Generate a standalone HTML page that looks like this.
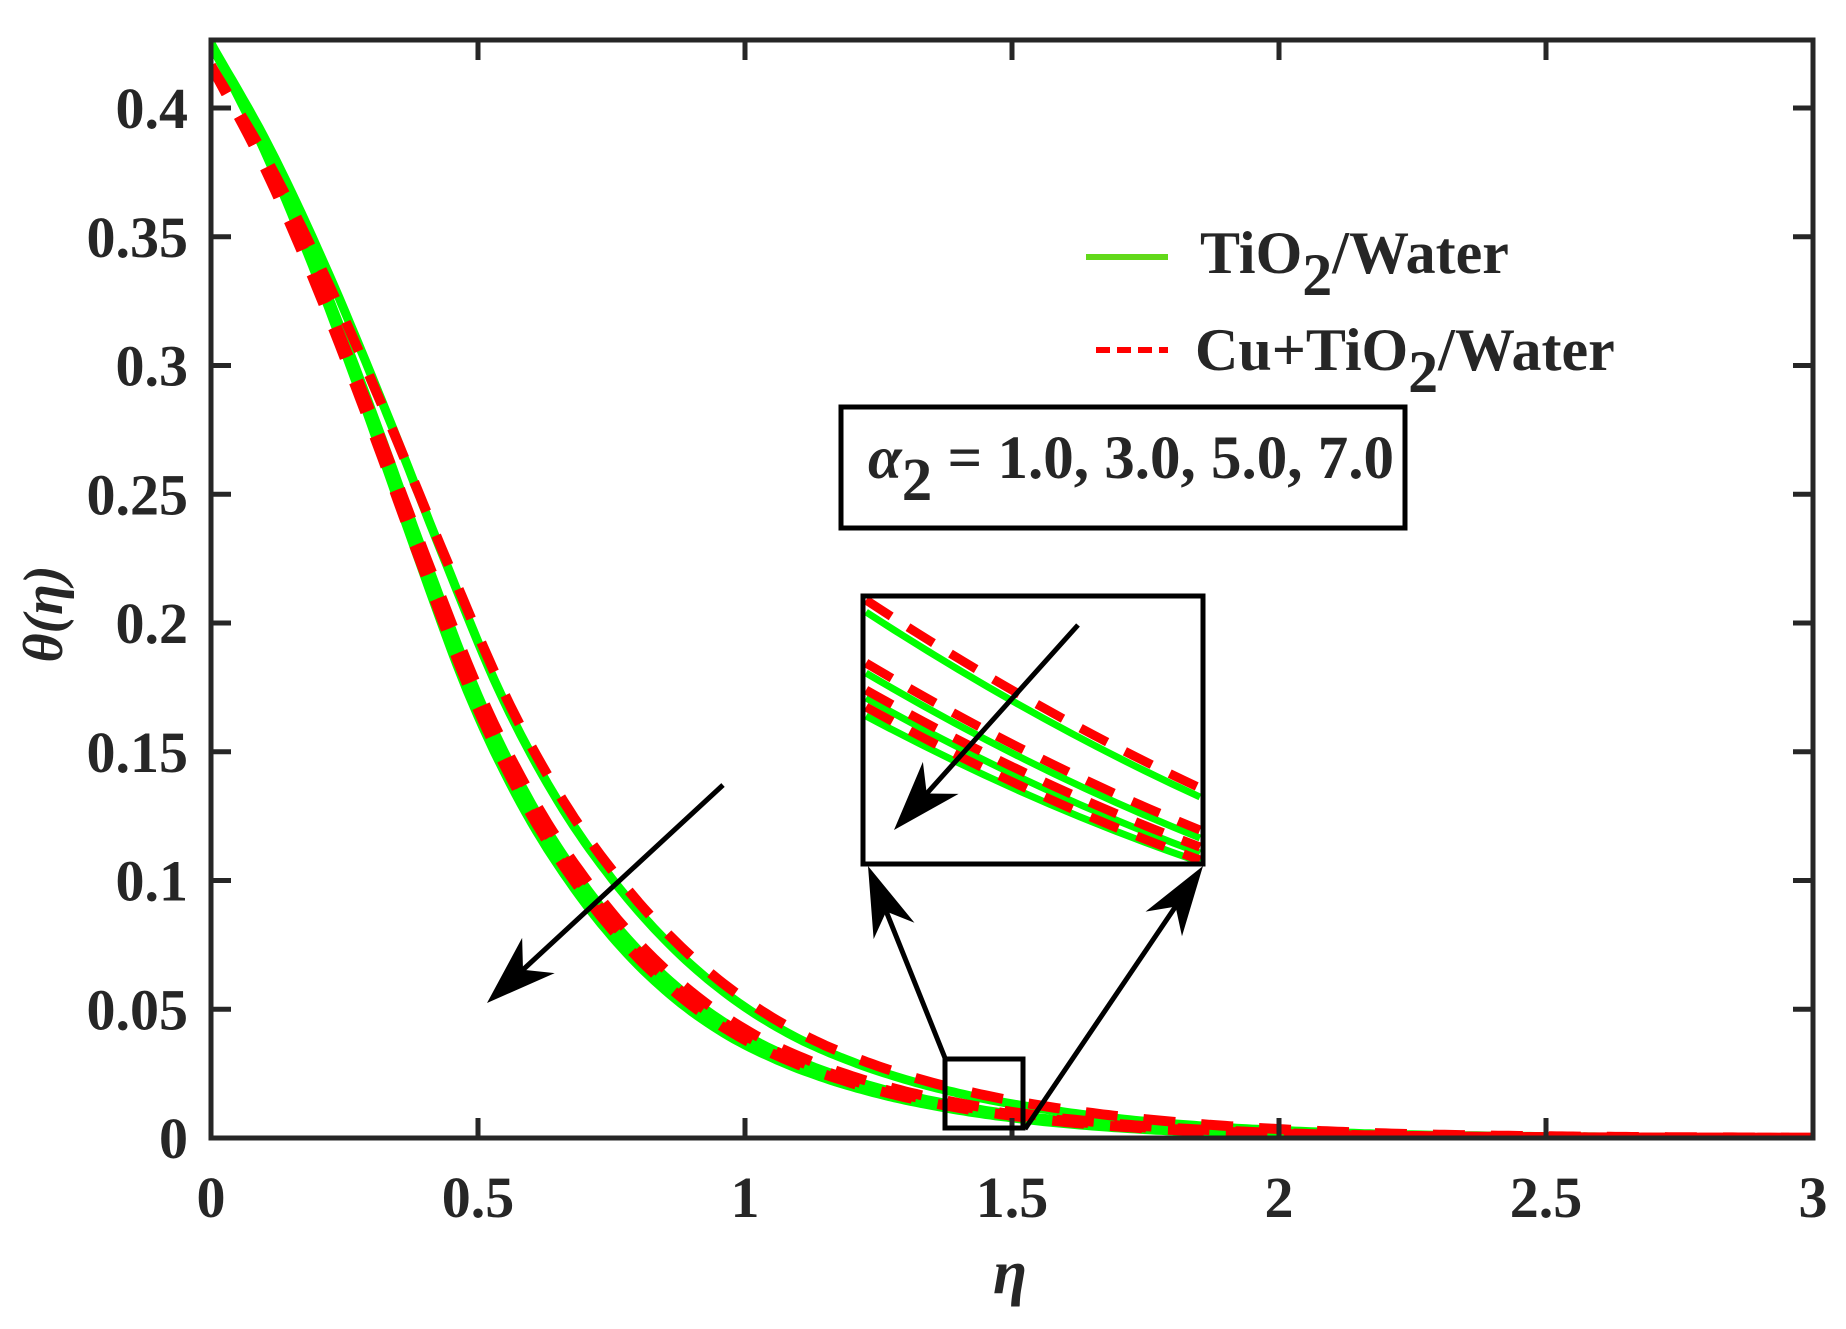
<!DOCTYPE html>
<html><head><meta charset="utf-8"><style>
html,body{margin:0;padding:0;background:#fff}
svg{display:block}
text{font-family:"Liberation Serif",serif;font-weight:bold;fill:#262626}
</style></head><body>
<svg id="s" width="1846" height="1329" viewBox="0 0 1846 1329" xmlns="http://www.w3.org/2000/svg">
<defs>
<clipPath id="pc"><rect x="211" y="38" width="1602" height="1100"/></clipPath>
<clipPath id="ic"><rect x="863" y="596" width="339" height="266"/></clipPath>
</defs>
<g id="curves" clip-path="url(#pc)"></g>
<g id="inset" clip-path="url(#ic)"></g>
<rect x="211" y="40" width="1602" height="1098" fill="none" stroke="#262626" stroke-width="5"/>
<g id="ticks" stroke="#262626" stroke-width="5"></g>
<g font-size="58" text-anchor="end" id="ylab"></g>
<g font-size="58" text-anchor="middle" id="xlab"></g>
<text x="1010" y="1293" font-size="62" font-style="italic" text-anchor="middle">η</text>
<text transform="translate(62,614) rotate(-90)" font-size="56" font-style="italic" text-anchor="middle">θ(η)</text>
<line x1="1086" y1="257" x2="1168" y2="257" stroke="#62d91a" stroke-width="6"/>
<text x="1200" y="273" font-size="60" fill="#000">TiO<tspan dy="22">2</tspan><tspan dy="-22">/Water</tspan></text>
<line x1="1096" y1="350" x2="1168" y2="350" stroke="#ff0000" stroke-width="6" stroke-dasharray="14,7"/>
<text x="1195" y="370" font-size="60" fill="#000">Cu+TiO<tspan dy="22">2</tspan><tspan dy="-22">/Water</tspan></text>
<rect x="841" y="407" width="564" height="121" fill="none" stroke="#000" stroke-width="5"/>
<text x="868" y="478" font-size="61" fill="#000"><tspan font-style="italic">α</tspan><tspan dy="22">2</tspan><tspan dy="-22"> = 1.0, 3.0, 5.0, 7.0</tspan></text>
<rect x="863" y="596" width="340" height="268" fill="none" stroke="#000" stroke-width="5"/>
<rect x="945" y="1059" width="78" height="69" fill="none" stroke="#000" stroke-width="5"/>
<g id="arrows"></g>
</svg>
<script>
var NS="http://www.w3.org/2000/svg";
function el(p,t,a){var e=document.createElementNS(NS,t);for(var k in a)e.setAttribute(k,a[k]);p.appendChild(e);return e;}
var X0=211,X1=1813,Y0=1138,PY=2575;
function px(e){return X0+(X1-X0)*e/3;}function py(v){return Y0-v*PY;}
var V=[0.425,0.385,0.337,0.283,0.226,0.172,0.13,0.098,0.073,0.054,0.040,0.030,0.0225,0.0168,0.0125,0.0092,0.0067,0.0048,0.0034,0.0024,0.0016];
var v=V[V.length-1];for(var i=V.length;i<=32;i++){v*=0.7;V.push(i>=30?0:v);}
function base(e){var h=0.1;if(e<=0)return V[0];var i=Math.floor(e/h);if(i>=V.length-2)return 0;var t=e/h-i;
var p0=V[Math.max(i-1,0)],a=V[i],b=V[i+1],p3=V[Math.min(i+2,V.length-1)];
var m1=(b-p0)/2,m2=(p3-a)/2;if(i==0)m1=b-a;var t2=t*t,t3=t2*t;
return (2*t3-3*t2+1)*a+(t3-2*t2+t)*m1+(-2*t3+3*t2)*b+(t3-t2)*m2;}
var S=[0.92,1.0,1.02,1.035];
var cg=document.getElementById('curves');
function path(f){var d="";for(var e=0;e<=3.001;e+=0.01){d+=(d?"L":"M")+px(e).toFixed(1)+","+py(f(e)).toFixed(1);}return d;}
S.forEach(function(s){el(cg,'path',{d:path(function(e){return base(e*s);}),fill:'none',stroke:'#00ff00','stroke-width':9});});
S.forEach(function(s){el(cg,'path',{d:path(function(e){return 0.98*base(e*(s-0.025));}),fill:'none',stroke:'#ff0000','stroke-width':10,'stroke-dasharray':'32,26'});});
var ig=document.getElementById('inset');
var G=[[612,797],[673,838],[698,853],[716,862]],R=[[600,788],[663,830],[690,847],[707,860]];
function q(a,b){var mx=(868+1198)/2,my=(a+b)/2+16;return "M866,"+a+" Q"+mx+","+my+" 1200,"+b;}
G.forEach(function(g){el(ig,'path',{d:q(g[0],g[1]),fill:'none',stroke:'#00ff00','stroke-width':7});});
R.forEach(function(g){el(ig,'path',{d:q(g[0],g[1]),fill:'none',stroke:'#ff0000','stroke-width':9,'stroke-dasharray':'30,20'});});
var tg=document.getElementById('ticks'),yl=document.getElementById('ylab'),xl=document.getElementById('xlab');
var ylabs=["0","0.05","0.1","0.15","0.2","0.25","0.3","0.35","0.4"];
for(var k=0;k<=8;k++){var y=Y0-k*128.75;el(tg,'line',{x1:X0,y1:y,x2:X0+20,y2:y});el(tg,'line',{x1:X1,y1:y,x2:X1-20,y2:y});var t=el(yl,'text',{x:188,y:y+20});t.textContent=ylabs[k];}
var xlabs=["0","0.5","1","1.5","2","2.5","3"];
for(var k=0;k<=6;k++){var x=X0+k*(X1-X0)/6;el(tg,'line',{x1:x,y1:Y0,x2:x,y2:Y0-20});el(tg,'line',{x1:x,y1:40,x2:x,y2:60});var t=el(xl,'text',{x:x,y:1217});t.textContent=xlabs[k];}
var ag=document.getElementById('arrows');
function arrow(x1,y1,x2,y2,L,W){var dx=x2-x1,dy=y2-y1,l=Math.hypot(dx,dy),ux=dx/l,uy=dy/l,nx=-uy,ny=ux;
el(ag,'line',{x1:x1,y1:y1,x2:x2-ux*L*0.6,y2:y2-uy*L*0.6,stroke:'#000','stroke-width':5});
var bx=x2-ux*L,by=y2-uy*L,cx=x2-ux*L*0.7,cy=y2-uy*L*0.7;
el(ag,'polygon',{points:[x2,y2,bx+nx*W,by+ny*W,cx,cy,bx-nx*W,by-ny*W].join(' '),fill:'#000'});}
arrow(723,785,487,1003,70,24);
arrow(1078,625,894,830,70,24);
arrow(945,1058,868,866,70,22);
arrow(1025,1129,1203,866,70,22);
</script>
</body></html>
